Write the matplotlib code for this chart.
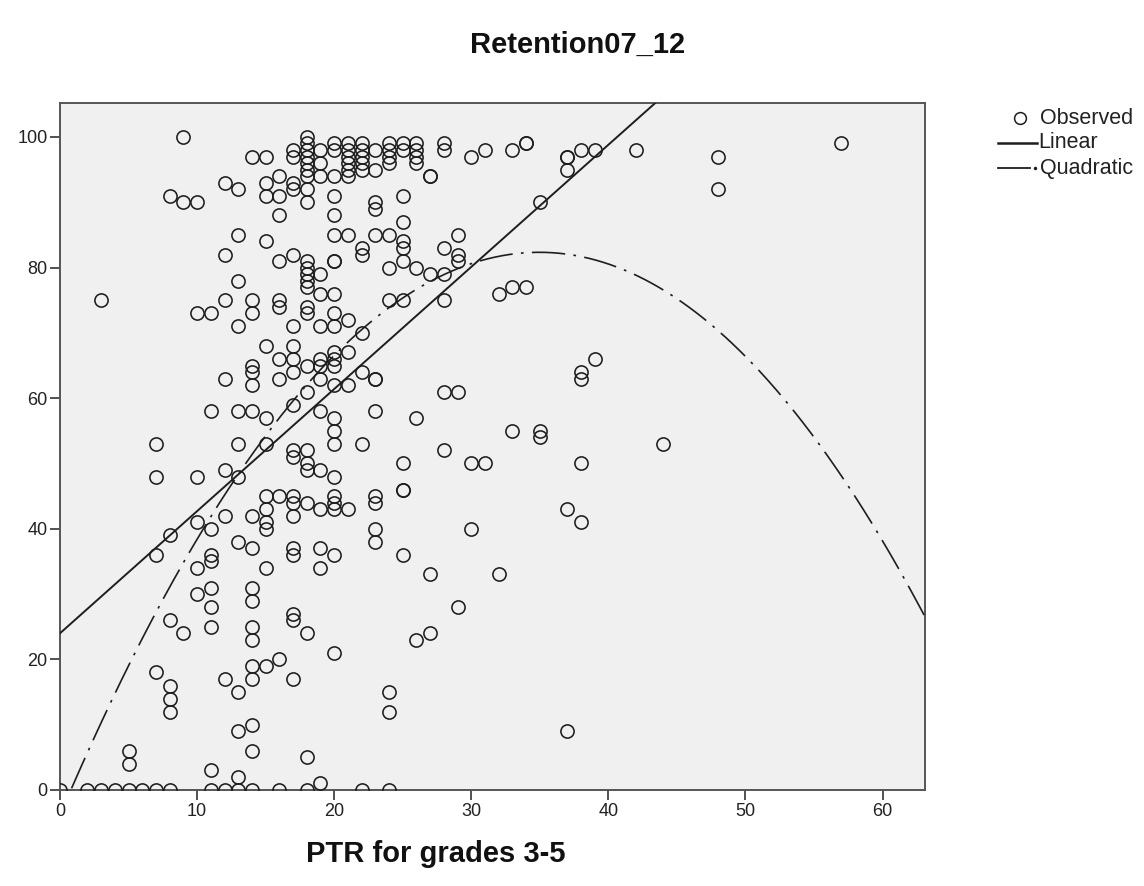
import numpy as np
import matplotlib
matplotlib.use("Agg")
import matplotlib.pyplot as plt
from matplotlib.lines import Line2D

# ---- data: PTR (x) and retention values observed at each PTR ----
ptr_values = [0, 2, 3, 4, 5, 6, 7, 8, 9, 10, 11, 12, 13, 14, 15, 16, 17, 18, 19, 20,
              21, 22, 23, 24, 25, 26, 27, 28, 29, 30, 31, 32, 33, 34, 35, 37, 38, 39,
              42, 44, 48, 57]
retention_by_ptr = [
    [0],
    [0],
    [75, 0],
    [0],
    [6, 4, 0],
    [0],
    [53, 48, 36, 18, 0],
    [91, 39, 26, 16, 14, 12, 0],
    [100, 90, 24],
    [90, 73, 48, 41, 34, 30],
    [73, 58, 40, 36, 35, 31, 28, 25, 3, 0],
    [93, 82, 75, 63, 49, 42, 17, 0],
    [92, 85, 78, 71, 58, 53, 48, 38, 15, 9, 2, 0],
    [97, 75, 73, 65, 64, 62, 58, 42, 37, 31, 29, 25, 23, 19, 17, 10, 6, 0],
    [97, 93, 91, 84, 68, 57, 53, 45, 43, 41, 40, 34, 19],
    [94, 91, 88, 81, 75, 74, 66, 63, 45, 20, 0],
    [98, 97, 93, 92, 82, 71, 68, 66, 64, 59, 52, 51, 45, 44, 42, 37, 36, 27, 26, 17],
    [100, 99, 98, 97, 96, 95, 94, 92, 90, 81, 80, 79, 78, 77, 74, 73, 65, 61, 52, 50,
     49, 44, 24, 5, 0],
    [98, 96, 94, 79, 76, 71, 66, 65, 63, 58, 49, 43, 37, 34, 1],
    [99, 98, 94, 91, 88, 85, 81, 81, 76, 73, 71, 67, 66, 65, 62, 57, 55, 53, 48, 45,
     44, 43, 36, 21],
    [99, 98, 97, 96, 95, 94, 85, 72, 67, 62, 43],
    [99, 98, 97, 96, 95, 83, 82, 70, 64, 53, 0],
    [98, 95, 90, 89, 85, 63, 63, 58, 45, 44, 40, 38],
    [99, 98, 97, 96, 85, 80, 75, 15, 12, 0],
    [99, 98, 91, 87, 84, 83, 81, 75, 50, 46, 46, 36],
    [99, 98, 97, 96, 80, 57, 23],
    [94, 94, 79, 33, 24],
    [99, 98, 83, 79, 75, 61, 52],
    [85, 82, 81, 61, 28],
    [97, 50, 40],
    [98, 50],
    [76, 33],
    [98, 77, 55],
    [99, 99, 77],
    [90, 55, 54],
    [97, 97, 95, 43, 9],
    [98, 64, 63, 50, 41],
    [98, 66],
    [98],
    [53],
    [97, 92],
    [99],
]

# fitted curve coefficients (intercept first)
linear_coef = [24.0, 1.87]
quadratic_coef = [-3.85, 4.93, -0.0705]

x_ticks = [0, 10, 20, 30, 40, 50, 60]
y_ticks = [0, 20, 40, 60, 80, 100]
title_text = "Retention07_12"
xlabel_text = "PTR for grades 3-5"
legend_labels = ["Observed", "Linear", "Quadratic"]

# ---- build ----
xs = np.concatenate([[p] * len(v) for p, v in zip(ptr_values, retention_by_ptr)])
ys = np.concatenate([v for v in retention_by_ptr])

W, H = 1144, 886
fig = plt.figure(figsize=(W / 100, H / 100), dpi=100)
fig.patch.set_facecolor("white")
plt.rcParams["font.family"] = ["Liberation Sans", "DejaVu Sans"]

L, R, T, B = 60, 925, 103, 790
ax = fig.add_axes([L / W, 1 - B / H, (R - L) / W, (B - T) / H])
ax.set_facecolor("#F0F0F0")
XMAX, YMAX = 63.1, 105.2
ax.set_xlim(0, XMAX)
ax.set_ylim(0, YMAX)

ink = "#1e1e1e"
ax.plot(xs, ys, "o", mfc="none", mec=ink, ms=9.5, mew=1.15, zorder=3)

xx = np.linspace(0, XMAX, 600)
ax.plot(xx, linear_coef[0] + linear_coef[1] * xx, color=ink, lw=1.4, zorder=4)
yq = quadratic_coef[0] + quadratic_coef[1] * xx + quadratic_coef[2] * xx ** 2
mask = yq >= 0
ax.plot(xx[mask], yq[mask], color=ink, lw=1.2, linestyle=(0, (20, 5, 1.6, 5)), zorder=4)

ax.set_xticks(x_ticks)
ax.set_yticks(y_ticks)
ax.tick_params(direction="out", length=7, width=1.2, color="#333333",
               labelsize=13, labelcolor="#222222", pad=2)
for s in ax.spines.values():
    s.set_color("#555555")
    s.set_linewidth(1.4)

fig.text(578 / W, 1 - 45 / H, title_text, ha="center", va="center",
         fontsize=21, fontweight="bold", color="#111111")
fig.text(436 / W, 1 - 854 / H, xlabel_text, ha="center", va="center",
         fontsize=21, fontweight="bold", color="#111111")

# legend (manual, SPSS style)
def fx(px):
    return px / W

def fy(py):
    return 1 - py / H

fig.add_artist(Line2D([fx(1020)], [fy(118)], marker="o", mfc="none", mec=ink,
                      ms=8.5, mew=1.1, transform=fig.transFigure))
fig.text(fx(1040), fy(118), legend_labels[0], ha="left", va="center", fontsize=15.5,
         color="#222222")
fig.add_artist(Line2D([fx(998), fx(1037)], [fy(143), fy(143)], color=ink, lw=1.8,
                      transform=fig.transFigure))
fig.text(fx(1038), fy(143), legend_labels[1], ha="left", va="center", fontsize=15.5,
         color="#222222")
fig.add_artist(Line2D([fx(998), fx(1030)], [fy(168), fy(168)], color=ink, lw=1.3,
                      transform=fig.transFigure))
fig.add_artist(Line2D([fx(1035)], [fy(168)], marker="o", ms=1.5, color=ink,
                      transform=fig.transFigure))
fig.text(fx(1040), fy(168), legend_labels[2], ha="left", va="center", fontsize=15.5,
         color="#222222")

fig.savefig("out.png", dpi=100, facecolor="white")
